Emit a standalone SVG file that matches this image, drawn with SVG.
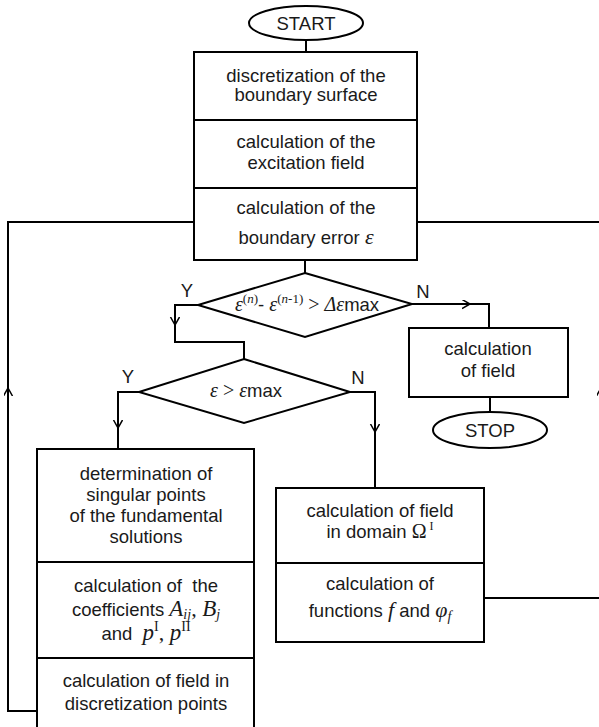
<svg xmlns="http://www.w3.org/2000/svg" width="599" height="727" viewBox="0 0 599 727">
<style>
.b{fill:#fff;stroke:#000;stroke-width:2}
.c{fill:none;stroke:#000;stroke-width:2}
.t{font-family:"Liberation Sans",Arial,sans-serif;font-size:18.5px;fill:#1a1a1a;text-anchor:middle}
.m{font-family:"Liberation Serif","Times New Roman",serif;font-style:italic}
.r{font-family:"Liberation Serif","Times New Roman",serif;font-style:normal}
</style>
<defs>
<marker id="ah" markerUnits="userSpaceOnUse" markerWidth="12" markerHeight="12" refX="8" refY="4.5" orient="auto">
<path d="M0,0 L8,4.5 L0,9" fill="none" stroke="#000" stroke-width="1.5"/>
</marker>
</defs>
<g id="connectors">
<path class="c" d="M306,40 V52"/>
<path class="c" d="M305,260 V273"/>
<path class="c" d="M198,305 H175 V342 H244 V359"/>
<path class="c" d="M412,304 H489 V328"/>
<path class="c" d="M139,392 H118 V449"/>
<path class="c" d="M350,392 H375 V488"/>
<path class="c" d="M490,397 V412"/>
<path class="c" d="M194,222 H8 V711 H37"/>
<path class="c" d="M417,222 H601 V598 H484"/>
<path class="c" d="M175,315 V325" marker-end="url(#ah)"/>
<path class="c" d="M460,304 H470" marker-end="url(#ah)"/>
<path class="c" d="M118,418 V428" marker-end="url(#ah)"/>
<path class="c" d="M375,422 V432" marker-end="url(#ah)"/>
<path class="c" d="M8,398 V388" marker-end="url(#ah)"/>
<path class="c" d="M601,398 V388" marker-end="url(#ah)"/>
</g>
<g id="start">
<ellipse class="b" cx="306" cy="23" rx="57" ry="17"/>
<text class="t" x="306" y="30">START</text>
</g>
<g id="box-discretization">
<rect class="b" x="194" y="52" width="223" height="68"/>
<text class="t" x="306" y="81.5">discretization of the</text>
<text class="t" x="306" y="101">boundary surface</text>
</g>
<g id="box-excitation">
<rect class="b" x="194" y="120" width="223" height="68"/>
<text class="t" x="306" y="148">calculation of the</text>
<text class="t" x="306" y="169">excitation field</text>
</g>
<g id="box-boundary-error">
<rect class="b" x="194" y="188" width="223" height="72"/>
<text class="t" x="306" y="214">calculation of the</text>
<text class="t" x="306" y="244">boundary error <tspan class="m" font-size="22">ε</tspan></text>
</g>
<g id="decision-1">
<polygon class="b" points="305,273 412,304 305,337 198,305"/>
<text class="t" x="307" y="311"><tspan class="m" font-size="20">ε</tspan><tspan class="r" font-size="13" dy="-8">(<tspan class="m">n</tspan>)</tspan><tspan dy="8">- </tspan><tspan class="m" font-size="20">ε</tspan><tspan class="r" font-size="13" dy="-8">(<tspan class="m">n</tspan>-1)</tspan><tspan class="r" font-size="20" dy="8"> &gt; </tspan><tspan class="m" font-size="20">Δε</tspan>max</text>
<text class="t" x="187" y="297">Y</text>
<text class="t" x="423" y="298">N</text>
</g>
<g id="box-field">
<rect class="b" x="409" y="328" width="159" height="69"/>
<text class="t" x="488" y="355">calculation</text>
<text class="t" x="488" y="377">of field</text>
</g>
<g id="stop">
<ellipse class="b" cx="490" cy="430" rx="57" ry="18"/>
<text class="t" x="490" y="437">STOP</text>
</g>
<g id="decision-2">
<polygon class="b" points="244,359 350,392 244,423 139,392"/>
<text class="t" x="246" y="397"><tspan class="m" font-size="20">ε</tspan><tspan class="r" font-size="20"> &gt; </tspan><tspan class="m" font-size="20">ε</tspan>max</text>
<text class="t" x="128" y="383">Y</text>
<text class="t" x="358" y="384">N</text>
</g>
<g id="box-singular">
<rect class="b" x="37" y="449" width="217" height="113"/>
<text class="t" x="146" y="480">determination of</text>
<text class="t" x="146" y="501">singular points</text>
<text class="t" x="146" y="522">of the fundamental</text>
<text class="t" x="146" y="543">solutions</text>
</g>
<g id="box-coefficients">
<rect class="b" x="37" y="562" width="217" height="96"/>
<text class="t" x="146" y="592" xml:space="preserve">calculation of  the</text>
<text class="t" x="146" y="616">coefficients <tspan class="m" font-size="23">A</tspan><tspan class="m" font-size="14" dy="3">ij</tspan><tspan class="r" font-size="22" dy="-3">, </tspan><tspan class="m" font-size="23">B</tspan><tspan class="m" font-size="14" dy="3">j</tspan></text>
<text class="t" x="146" y="640" xml:space="preserve">and  <tspan class="m" font-size="23">p</tspan><tspan class="r" font-size="14" dy="-9">I</tspan><tspan class="r" font-size="22" dy="9">, </tspan><tspan class="m" font-size="23">p</tspan><tspan class="r" font-size="14" dy="-9">II</tspan></text>
</g>
<g id="box-discretization-points">
<rect class="b" x="37" y="658" width="217" height="72"/>
<text class="t" x="146" y="687">calculation of field in</text>
<text class="t" x="146" y="710">discretization points</text>
</g>
<g id="box-domain">
<rect class="b" x="276" y="488" width="208" height="75"/>
<text class="t" x="380" y="517">calculation of field</text>
<text class="t" x="380" y="538" xml:space="preserve">in domain <tspan class="r" font-size="20">Ω</tspan><tspan class="r" font-size="12" dy="-8"> I</tspan></text>
</g>
<g id="box-functions">
<rect class="b" x="276" y="563" width="208" height="79"/>
<text class="t" x="380" y="590">calculation of</text>
<text class="t" x="380" y="617">functions <tspan class="m" font-size="22">f</tspan> and <tspan class="m" font-size="22">φ</tspan><tspan class="m" font-size="14" dy="4">f</tspan></text>
</g>
</svg>
